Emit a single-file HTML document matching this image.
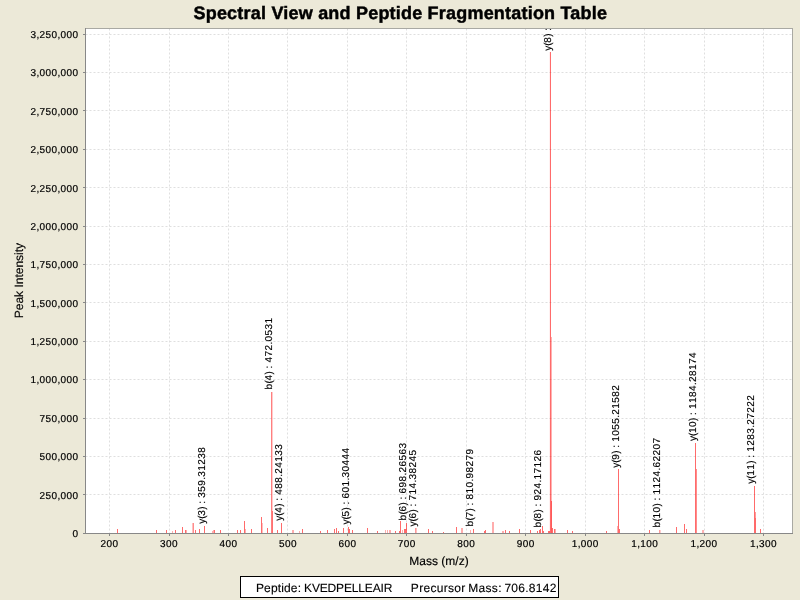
<!DOCTYPE html>
<html><head><meta charset="utf-8"><title>Spectral View and Peptide Fragmentation Table</title>
<style>
html,body{margin:0;padding:0;background:#ECE9D8;width:800px;height:600px;overflow:hidden}
svg{display:block;will-change:transform}
text{font-family:'Liberation Sans', Arial, sans-serif;text-rendering:geometricPrecision}
</style></head><body>
<svg width="800" height="600" viewBox="0 0 800 600">
<defs><clipPath id="pc"><rect x="86" y="29" width="706" height="504"/></clipPath></defs>
<rect width="800" height="600" fill="#ECE9D8"/>
<rect x="85" y="28" width="708" height="506" fill="#fff"/><g stroke="#DFDFDF" stroke-width="1" stroke-dasharray="2 2" stroke-dashoffset="0"><line x1="109.5" y1="28.5" x2="109.5" y2="533" /><line x1="169.5" y1="28.5" x2="169.5" y2="533" /><line x1="228.5" y1="28.5" x2="228.5" y2="533" /><line x1="287.5" y1="28.5" x2="287.5" y2="533" /><line x1="347.5" y1="28.5" x2="347.5" y2="533" /><line x1="406.5" y1="28.5" x2="406.5" y2="533" /><line x1="466.5" y1="28.5" x2="466.5" y2="533" /><line x1="525.5" y1="28.5" x2="525.5" y2="533" /><line x1="585.5" y1="28.5" x2="585.5" y2="533" /><line x1="644.5" y1="28.5" x2="644.5" y2="533" /><line x1="704.5" y1="28.5" x2="704.5" y2="533" /><line x1="763.5" y1="28.5" x2="763.5" y2="533" /></g><g stroke="#DFDFDF" stroke-width="1" stroke-dasharray="2 2" stroke-dashoffset="0"><line x1="85.5" y1="494.5" x2="792" y2="494.5" /><line x1="85.5" y1="456.5" x2="792" y2="456.5" /><line x1="85.5" y1="418.5" x2="792" y2="418.5" /><line x1="85.5" y1="379.5" x2="792" y2="379.5" /><line x1="85.5" y1="341.5" x2="792" y2="341.5" /><line x1="85.5" y1="302.5" x2="792" y2="302.5" /><line x1="85.5" y1="264.5" x2="792" y2="264.5" /><line x1="85.5" y1="226.5" x2="792" y2="226.5" /><line x1="85.5" y1="187.5" x2="792" y2="187.5" /><line x1="85.5" y1="149.5" x2="792" y2="149.5" /><line x1="85.5" y1="110.5" x2="792" y2="110.5" /><line x1="85.5" y1="72.5" x2="792" y2="72.5" /><line x1="85.5" y1="34.5" x2="792" y2="34.5" /></g><g fill="#FF0000" shape-rendering="crispEdges"><rect x="117" y="529" width="1" height="4" fill-opacity="0.58"/><rect x="156" y="530" width="1" height="3" fill-opacity="0.58"/><rect x="166" y="530" width="1" height="3" fill-opacity="0.58"/><rect x="172" y="531" width="1" height="2" fill-opacity="0.32"/><rect x="175" y="530" width="1" height="3" fill-opacity="0.58"/><rect x="182" y="527" width="1" height="6" fill-opacity="0.58"/><rect x="185" y="530" width="1" height="3" fill-opacity="0.58"/><rect x="186" y="530" width="1" height="3" fill-opacity="0.32"/><rect x="192" y="523" width="1" height="10" fill-opacity="0.25"/><rect x="193" y="523" width="1" height="10" fill-opacity="0.45"/><rect x="195" y="530" width="1" height="3" fill-opacity="0.58"/><rect x="199" y="529" width="1" height="4" fill-opacity="0.58"/><rect x="204" y="526" width="1" height="7" fill-opacity="0.58"/><rect x="212" y="531" width="1" height="2" fill-opacity="0.32"/><rect x="213" y="530" width="1" height="3" fill-opacity="0.32"/><rect x="214" y="530" width="1" height="3" fill-opacity="0.58"/><rect x="220" y="530" width="1" height="3" fill-opacity="0.58"/><rect x="237" y="530" width="1" height="3" fill-opacity="0.58"/><rect x="240" y="530" width="1" height="3" fill-opacity="0.58"/><rect x="244" y="521" width="1" height="12" fill-opacity="0.58"/><rect x="245" y="529" width="1" height="4" fill-opacity="0.32"/><rect x="251" y="529" width="1" height="4" fill-opacity="0.58"/><rect x="261" y="517" width="1" height="16" fill-opacity="0.58"/><rect x="262" y="523" width="1" height="10" fill-opacity="0.25"/><rect x="267" y="528" width="1" height="5" fill-opacity="0.58"/><rect x="271" y="392" width="1" height="141" fill-opacity="0.5"/><rect x="272" y="392" width="1" height="141" fill-opacity="0.2"/><rect x="272" y="511" width="1" height="22" fill-opacity="0.45"/><rect x="277" y="530" width="1" height="3" fill-opacity="0.58"/><rect x="281" y="523" width="1" height="10" fill-opacity="0.58"/><rect x="292" y="530" width="1" height="3" fill-opacity="0.32"/><rect x="293" y="530" width="1" height="3" fill-opacity="0.32"/><rect x="299" y="531" width="1" height="2" fill-opacity="0.32"/><rect x="302" y="529" width="1" height="4" fill-opacity="0.58"/><rect x="320" y="531" width="1" height="2" fill-opacity="0.58"/><rect x="327" y="530" width="1" height="3" fill-opacity="0.58"/><rect x="334" y="529" width="1" height="4" fill-opacity="0.58"/><rect x="336" y="528" width="1" height="5" fill-opacity="0.58"/><rect x="338" y="531" width="1" height="2" fill-opacity="0.58"/><rect x="343" y="528" width="1" height="5" fill-opacity="0.58"/><rect x="348" y="527" width="1" height="6" fill-opacity="0.58"/><rect x="349" y="529" width="1" height="4" fill-opacity="0.58"/><rect x="352" y="530" width="1" height="3" fill-opacity="0.58"/><rect x="367" y="528" width="1" height="5" fill-opacity="0.58"/><rect x="377" y="531" width="1" height="2" fill-opacity="0.58"/><rect x="385" y="530" width="1" height="3" fill-opacity="0.32"/><rect x="387" y="530" width="1" height="3" fill-opacity="0.32"/><rect x="389" y="530" width="1" height="3" fill-opacity="0.32"/><rect x="390" y="530" width="1" height="3" fill-opacity="0.32"/><rect x="395" y="531" width="1" height="2" fill-opacity="0.58"/><rect x="399" y="531" width="1" height="2" fill-opacity="0.58"/><rect x="400" y="521" width="1" height="12" fill-opacity="0.58"/><rect x="402" y="530" width="1" height="3" fill-opacity="0.32"/><rect x="404" y="529" width="1" height="4" fill-opacity="0.58"/><rect x="405" y="529" width="1" height="4" fill-opacity="0.58"/><rect x="406" y="523" width="1" height="10" fill-opacity="0.58"/><rect x="415" y="528" width="1" height="5" fill-opacity="0.4"/><rect x="416" y="528" width="1" height="5" fill-opacity="0.25"/><rect x="428" y="529" width="1" height="4" fill-opacity="0.58"/><rect x="432" y="531" width="1" height="2" fill-opacity="0.58"/><rect x="443" y="532" width="1" height="1" fill-opacity="0.58"/><rect x="456" y="527" width="1" height="6" fill-opacity="0.58"/><rect x="461" y="528" width="1" height="5" fill-opacity="0.32"/><rect x="462" y="528" width="1" height="5" fill-opacity="0.32"/><rect x="470" y="530" width="1" height="3" fill-opacity="0.32"/><rect x="473" y="529" width="1" height="4" fill-opacity="0.58"/><rect x="484" y="531" width="1" height="2" fill-opacity="0.58"/><rect x="485" y="530" width="1" height="3" fill-opacity="0.58"/><rect x="492" y="522" width="1" height="11" fill-opacity="0.32"/><rect x="493" y="522" width="1" height="11" fill-opacity="0.32"/><rect x="502" y="531" width="1" height="2" fill-opacity="0.32"/><rect x="503" y="531" width="1" height="2" fill-opacity="0.32"/><rect x="505" y="530" width="1" height="3" fill-opacity="0.58"/><rect x="509" y="531" width="1" height="2" fill-opacity="0.58"/><rect x="519" y="529" width="1" height="4" fill-opacity="0.58"/><rect x="530" y="530" width="1" height="3" fill-opacity="0.58"/><rect x="537" y="531" width="1" height="2" fill-opacity="0.58"/><rect x="539" y="530" width="1" height="3" fill-opacity="0.58"/><rect x="540" y="529" width="1" height="4" fill-opacity="0.58"/><rect x="542" y="526" width="1" height="7" fill-opacity="0.58"/><rect x="543" y="531" width="1" height="2" fill-opacity="0.58"/><rect x="548" y="531" width="1" height="2" fill-opacity="0.58"/><rect x="549" y="531" width="1" height="2" fill-opacity="0.58"/><rect x="550" y="52" width="1" height="481" fill-opacity="0.58"/><rect x="549" y="52" width="1" height="481" fill-opacity="0.06"/><rect x="551" y="337" width="1" height="196" fill-opacity="0.3"/><rect x="551" y="501" width="1" height="32" fill-opacity="0.5"/><rect x="552" y="528" width="1" height="5" fill-opacity="0.58"/><rect x="554" y="529" width="1" height="4" fill-opacity="0.58"/><rect x="555" y="529" width="1" height="4" fill-opacity="0.32"/><rect x="567" y="530" width="1" height="3" fill-opacity="0.58"/><rect x="572" y="531" width="1" height="2" fill-opacity="0.58"/><rect x="606" y="531" width="1" height="2" fill-opacity="0.58"/><rect x="617" y="526" width="1" height="7" fill-opacity="0.32"/><rect x="618" y="469" width="1" height="64" fill-opacity="0.58"/><rect x="619" y="529" width="1" height="4" fill-opacity="0.58"/><rect x="649" y="530" width="1" height="3" fill-opacity="0.58"/><rect x="659" y="530" width="1" height="3" fill-opacity="0.4"/><rect x="660" y="530" width="1" height="3" fill-opacity="0.2"/><rect x="676" y="527" width="1" height="6" fill-opacity="0.58"/><rect x="684" y="524" width="1" height="9" fill-opacity="0.58"/><rect x="686" y="529" width="1" height="4" fill-opacity="0.58"/><rect x="695" y="443" width="1" height="90" fill-opacity="0.58"/><rect x="696" y="469" width="1" height="64" fill-opacity="0.45"/><rect x="702" y="530" width="1" height="3" fill-opacity="0.3"/><rect x="703" y="530" width="1" height="3" fill-opacity="0.3"/><rect x="754" y="486" width="1" height="47" fill-opacity="0.58"/><rect x="755" y="512" width="1" height="21" fill-opacity="0.4"/><rect x="755" y="518" width="1" height="15" fill-opacity="0.3"/><rect x="760" y="529" width="1" height="4" fill-opacity="0.58"/></g><g clip-path="url(#pc)" font-size="10" fill="#000" stroke="#000" stroke-width="0.15"><text transform="translate(205 523.8) rotate(-90)" x="0 5 8 14 17 20 23 26 32 38 44 47 53 59 65 71" y="0">y(3) : 359.31238</text><text transform="translate(272 389.4) rotate(-90)" x="0 6 9 15 18 21 24 27 33 39 45 48 54 60 66" y="0">b(4) : 472.0531</text><text transform="translate(282 520.8) rotate(-90)" x="0 5 8 14 17 20 23 26 32 38 44 47 53 59 65 71" y="0">y(4) : 488.24133</text><text transform="translate(349 524.6) rotate(-90)" x="0 5 8 14 17 20 23 26 32 38 44 47 53 59 65 71" y="0">y(5) : 601.30444</text><text transform="translate(406 520.4) rotate(-90)" x="0 6 9 15 18 21 24 27 33 39 45 48 54 60 66 72" y="0">b(6) : 698.26563</text><text transform="translate(416 526.6) rotate(-90)" x="0 5 8 14 17 20 23 26 32 38 44 47 53 59 65 71" y="0">y(6) : 714.38245</text><text transform="translate(473 526.4) rotate(-90)" x="0 6 9 15 18 21 24 27 33 39 45 48 54 60 66 72" y="0">b(7) : 810.98279</text><text transform="translate(541 527.4) rotate(-90)" x="0 6 9 15 18 21 24 27 33 39 45 48 54 60 66 72" y="0">b(8) : 924.17126</text><text transform="translate(551 50.8) rotate(-90)" x="0 5 8 14 17 20 23 26 32 38 44 47 53 59 65 71" y="0">y(8) : 940.51758</text><text transform="translate(619 467.8) rotate(-90)" x="0 5 8 14 17 20 23 26 32 38 44 50 53 59 65 71 77" y="0">y(9) : 1055.21582</text><text transform="translate(660 527.6) rotate(-90)" x="0 6 9 15 21 24 27 30 33 39 45 51 57 60 66 72 78 84" y="0">b(10) : 1124.62207</text><text transform="translate(696 440.9) rotate(-90)" x="0 5 8 14 20 23 26 29 32 38 44 50 56 59 65 71 77 83" y="0">y(10) : 1184.28174</text><text transform="translate(754 483.8) rotate(-90)" x="0 5 8 14 20 23 26 29 32 38 44 50 56 59 65 71 77 83" y="0">y(11) : 1283.27222</text></g><rect x="85" y="28" width="708" height="1" fill="#A9A9A3"/><rect x="792" y="28" width="1" height="506" fill="#A9A9A3"/><rect x="85" y="28" width="1" height="506" fill="#888"/><rect x="85" y="533" width="708" height="1" fill="#888"/><g fill="#888" shape-rendering="crispEdges"><rect x="83" y="533" width="2" height="1"/><rect x="83" y="494" width="2" height="1"/><rect x="83" y="456" width="2" height="1"/><rect x="83" y="418" width="2" height="1"/><rect x="83" y="379" width="2" height="1"/><rect x="83" y="341" width="2" height="1"/><rect x="83" y="302" width="2" height="1"/><rect x="83" y="264" width="2" height="1"/><rect x="83" y="226" width="2" height="1"/><rect x="83" y="187" width="2" height="1"/><rect x="83" y="149" width="2" height="1"/><rect x="83" y="110" width="2" height="1"/><rect x="83" y="72" width="2" height="1"/><rect x="83" y="34" width="2" height="1"/><rect x="109" y="534" width="1" height="2"/><rect x="169" y="534" width="1" height="2"/><rect x="228" y="534" width="1" height="2"/><rect x="287" y="534" width="1" height="2"/><rect x="347" y="534" width="1" height="2"/><rect x="406" y="534" width="1" height="2"/><rect x="466" y="534" width="1" height="2"/><rect x="525" y="534" width="1" height="2"/><rect x="585" y="534" width="1" height="2"/><rect x="644" y="534" width="1" height="2"/><rect x="704" y="534" width="1" height="2"/><rect x="763" y="534" width="1" height="2"/></g><g font-size="10" fill="#000" stroke="#000" stroke-width="0.2"><text x="72.4" y="537">0</text><text x="39.4 45.4 51.4 57.4 60.4 66.4 72.4" y="499">250,000</text><text x="39.4 45.4 51.4 57.4 60.4 66.4 72.4" y="460">500,000</text><text x="39.4 45.4 51.4 57.4 60.4 66.4 72.4" y="422">750,000</text><text x="30.4 36.4 39.4 45.4 51.4 57.4 60.4 66.4 72.4" y="383">1,000,000</text><text x="30.4 36.4 39.4 45.4 51.4 57.4 60.4 66.4 72.4" y="345">1,250,000</text><text x="30.4 36.4 39.4 45.4 51.4 57.4 60.4 66.4 72.4" y="307">1,500,000</text><text x="30.4 36.4 39.4 45.4 51.4 57.4 60.4 66.4 72.4" y="268">1,750,000</text><text x="30.4 36.4 39.4 45.4 51.4 57.4 60.4 66.4 72.4" y="230">2,000,000</text><text x="30.4 36.4 39.4 45.4 51.4 57.4 60.4 66.4 72.4" y="192">2,250,000</text><text x="30.4 36.4 39.4 45.4 51.4 57.4 60.4 66.4 72.4" y="153">2,500,000</text><text x="30.4 36.4 39.4 45.4 51.4 57.4 60.4 66.4 72.4" y="115">2,750,000</text><text x="30.4 36.4 39.4 45.4 51.4 57.4 60.4 66.4 72.4" y="76">3,000,000</text><text x="30.4 36.4 39.4 45.4 51.4 57.4 60.4 66.4 72.4" y="38">3,250,000</text><text x="100.6 106.6 112.6" y="547">200</text><text x="160.05 166.05 172.05" y="547">300</text><text x="219.5 225.5 231.5" y="547">400</text><text x="278.95 284.95 290.95" y="547">500</text><text x="338.4 344.4 350.4" y="547">600</text><text x="397.85 403.85 409.85" y="547">700</text><text x="457.3 463.3 469.3" y="547">800</text><text x="516.75 522.75 528.75" y="547">900</text><text x="571.7 577.7 580.7 586.7 592.7" y="547">1,000</text><text x="631.15 637.15 640.15 646.15 652.15" y="547">1,100</text><text x="690.6 696.6 699.6 705.6 711.6" y="547">1,200</text><text x="750.05 756.05 759.05 765.05 771.05" y="547">1,300</text></g><text x="439" y="565" font-size="12" text-anchor="middle" stroke="#000" stroke-width="0.15">Mass (m/z)</text><text transform="translate(23.3 280.6) rotate(-90)" x="0" y="0" font-size="12" text-anchor="middle" stroke="#000" stroke-width="0.15">Peak Intensity</text><text x="400.25" y="19" font-size="18" font-weight="bold" text-anchor="middle" stroke="#000" stroke-width="0.45" textLength="413.5" lengthAdjust="spacing">Spectral View and Peptide Fragmentation Table</text><rect x="240.5" y="576.5" width="318" height="21" fill="#fff" stroke="#000" stroke-width="1"/><text x="255.9" y="591.5" font-size="12" stroke="#000" stroke-width="0.12" textLength="45.1" lengthAdjust="spacing">Peptide:</text><text x="304.1" y="591.5" font-size="12" stroke="#000" stroke-width="0.12" textLength="88.2" lengthAdjust="spacing">KVEDPELLEAIR</text><text x="410.85" y="591.5" font-size="12" stroke="#000" stroke-width="0.12" textLength="54.35" lengthAdjust="spacing">Precursor</text><text x="468.2" y="591.5" font-size="12" stroke="#000" stroke-width="0.12" textLength="33.3" lengthAdjust="spacing">Mass:</text><text x="504.4" y="591.5" font-size="12" stroke="#000" stroke-width="0.12" textLength="52" lengthAdjust="spacing">706.8142</text>
</svg>
</body></html>
